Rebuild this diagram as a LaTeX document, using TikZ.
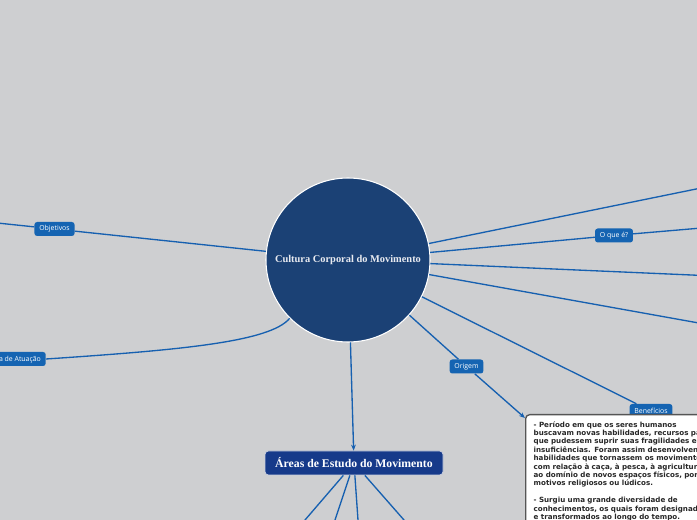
\documentclass[tikz,border=0pt]{standalone}
\usepackage{fontspec}
\setmainfont{Liberation Serif}
\newfontfamily\lblfont{Open Sans}
\newfontfamily\detfont{DejaVu Sans}
\usetikzlibrary{arrows.meta}
\definecolor{bgc}{RGB}{206,207,209}
\definecolor{circc}{RGB}{27,65,117}
\definecolor{areac}{RGB}{22,58,138}
\definecolor{lblc}{RGB}{21,100,178}
\definecolor{linec}{RGB}{22,96,176}
\definecolor{titlec}{RGB}{232,234,240}
\definecolor{detborder}{RGB}{85,85,85}
\definecolor{dettext}{RGB}{40,40,40}
\tikzset{
  conn/.style={draw=linec, line width=1pt},
  arr/.style={conn, -{Stealth[length=4.5pt,width=3.6pt]}},
  lbl/.style={fill=lblc, rounded corners=2pt, text=white, inner xsep=3.6pt, inner ysep=0pt,
    minimum height=10.5pt, font=\lblfont\fontsize{5.2}{6}\selectfont},
  centre/.style={circle, fill=circc, draw=white, line width=0.8pt, minimum size=123pt, inner sep=0pt,
    text=titlec, font=\bfseries\fontsize{7.8}{9}\selectfont},
  areabox/.style={fill=areac, draw={rgb,255:red,200;green,206;blue,222}, line width=0.6pt, rounded corners=2.5pt,
    minimum width=133.5pt, minimum height=18pt, inner sep=0pt, text=white,
    font=\bfseries\fontsize{8.8}{10}\selectfont},
  detbox/.style={fill=white, draw=detborder, line width=1pt, rounded corners=3pt, anchor=north west,
    inner xsep=6pt, inner ysep=5pt, align=left, text=dettext, text width=260pt,
    text depth=100pt, font=\detfont\bfseries\fontsize{5.35}{6.3}\selectfont}
}
\begin{document}
\begin{tikzpicture}[x=0.75pt,y=-0.75pt]
\useasboundingbox (0,0) rectangle (697,520);
\clip (0,0) rectangle (697,520);
\fill[bgc] (0,0) rectangle (697,520);

% off-canvas ends
\coordinate (offL) at (-60,217);
\coordinate (offR1) at (760,176);
\coordinate (offR2) at (760,223);
\coordinate (offR3) at (760,278);
\coordinate (offR4) at (760,334);
\coordinate (offB1) at (256,577);
\coordinate (offB2) at (316,577);
\coordinate (offB3) at (362,577);
\coordinate (offB4) at (454,577);
\coordinate (tip) at (525,418);

\node[centre] (c) at (348,260) {Cultura Corporal do Movimento};
\node[lbl] (obj) at (54.5,229) {Objetivos};
\node[lbl, anchor=east] (atu) at (46,359) {Área de Atuação};
\node[lbl] (oque) at (614,235.5) {O que é?};
\node[lbl] (orig) at (466.5,366.5) {Origem};
\node[lbl] (ben) at (651,411) {Benefícios};
\node[areabox] (areas) at (354,463) {Áreas de Estudo do Movimento};

% connectors
\draw[conn] (c) -- (obj);
\draw[conn] (obj) -- (offL);
\draw[conn] (c.225) .. controls (270,342) and (180,350) .. (atu.east);
\draw[conn] (c) -- (offR1);
\draw[conn] (c) -- (oque);
\draw[conn] (oque) -- (offR2);
\draw[conn] (c) -- (offR3);
\draw[conn] (c) -- (offR4);
\draw[conn] (c) -- (ben);
\draw[conn] (c) -- (orig);
\draw[arr] (orig) -- (tip);
\draw[arr] (c) -- (areas);
\draw[conn] (areas) -- (offB1);
\draw[conn] (areas) -- (offB2);
\draw[conn] (areas) -- (offB3);
\draw[conn] (areas) -- (offB4);

\fill[black, opacity=0.12, rounded corners=3pt] (527,416) rectangle (900,700);
\node[detbox] (det) at (525,414) {- Período em que os seres humanos\\
buscavam novas habilidades, recursos para\\
que pudessem suprir suas fragilidades e\\
insuficiências. Foram assim desenvolvendo\\
habilidades que tornassem os movimentos\\
com relação à caça, à pesca, à agricultura,\\
ao domínio de novos espaços físicos, por\\
motivos religiosos ou lúdicos.\\[6.3pt]
- Surgiu uma grande diversidade de\\
conhecimentos, os quais foram designados\\
e transformados ao longo do tempo.};
\end{tikzpicture}
\end{document}
